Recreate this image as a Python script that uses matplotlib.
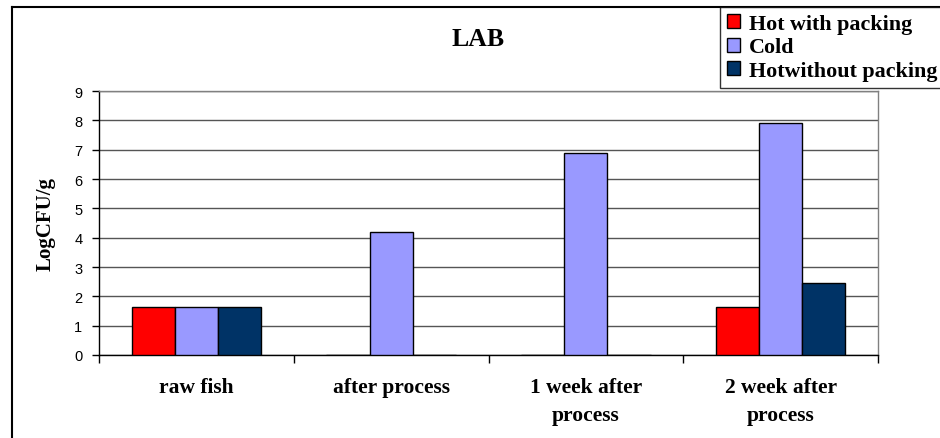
import matplotlib.pyplot as plt
import numpy as np
from matplotlib.lines import Line2D

categories = ['raw fish', 'after process', '1 week after\nprocess', '2 week after\nprocess']
hot_with_packing = [1.65, 0, 0, 1.65]
cold = [1.65, 4.2, 6.9, 7.9]
hot_without_packing = [1.65, 0, 0, 2.45]
series_names = ['Hot with packing', 'Cold', 'Hotwithout packing']
colors = ['#FF0000', '#9999FF', '#003366']

serif = 'Liberation Serif'
sans = 'Liberation Sans'

fig = plt.figure(figsize=(9.4, 4.39), dpi=100)
ax = fig.add_axes([99 / 940, 1 - 356 / 439, (878 - 99) / 940, (356 - 92) / 439])

x = np.arange(len(categories))
w = 0.222
for i, (vals, name, c) in enumerate(zip([hot_with_packing, cold, hot_without_packing], series_names, colors)):
    ax.bar(x + (i - 1) * w, vals, w, color=c, edgecolor='black', linewidth=1.0, label=name, zorder=3)

ax.set_xlim(-0.5, len(categories) - 0.5)
ax.set_ylim(0, 9)
ax.set_yticks(range(0, 10))
ax.yaxis.grid(True, color='#555555', linewidth=1.0, zorder=0)

# category boundaries as major ticks, labels on minor ticks
ax.set_xticks(np.arange(-0.5, len(categories), 1.0))
ax.set_xticklabels([])
ax.set_xticks(x, minor=True)
ax.set_xticklabels(categories, minor=True, fontfamily=serif, fontweight='bold',
                   fontsize=15.5, linespacing=1.5)
ax.tick_params(axis='x', which='major', direction='out', length=6, width=1, color='black')
ax.tick_params(axis='x', which='minor', length=0, pad=16)
ax.tick_params(axis='y', direction='out', length=5, width=1, color='black', pad=7)
for lab in ax.get_yticklabels():
    lab.set_fontfamily(sans)
    lab.set_fontsize(10.5)

ax.spines['left'].set_color('black')
ax.spines['bottom'].set_color('black')
ax.spines['top'].set_color('#808080')
ax.spines['right'].set_color('#808080')
for s in ax.spines.values():
    s.set_linewidth(1.0)

ax.set_ylabel('LogCFU/g', fontfamily=serif, fontweight='bold', fontsize=15, labelpad=13)

fig.text(478 / 940, 1 - 39 / 439, 'LAB', ha='center', va='center',
         fontfamily=serif, fontweight='bold', fontsize=18.5)

# outer chart frame (only left and top edges are visible)
fig.add_artist(Line2D([12 / 940, 12 / 940], [0, 1 - 8 / 439], color='black', linewidth=1.5,
                      transform=fig.transFigure))
fig.add_artist(Line2D([12 / 940, 1], [1 - 8 / 439, 1 - 8 / 439], color='black', linewidth=1.5,
                      transform=fig.transFigure))

leg = fig.legend(loc='upper left', bbox_to_anchor=(720 / 940, 1 - 8 / 439),
                 prop={'family': serif, 'weight': 'bold', 'size': 15.8},
                 frameon=True, fancybox=False, edgecolor='black', borderpad=0.3,
                 labelspacing=0.17, handlelength=0.6, handleheight=0.6,
                 handletextpad=0.4, borderaxespad=0)
leg.get_frame().set_linewidth(1.0)

fig.savefig('out.png', dpi=100)
